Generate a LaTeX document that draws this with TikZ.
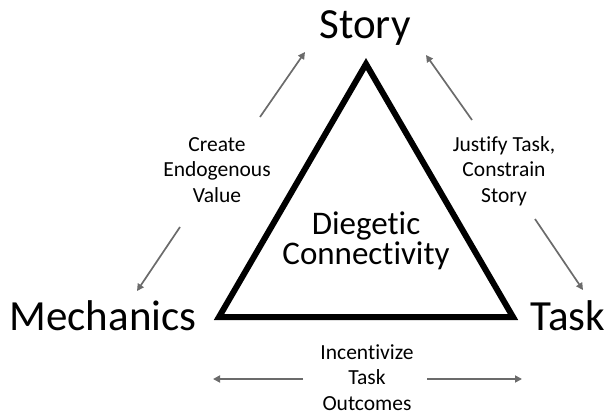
\documentclass[tikz,border=0pt]{standalone}
\usepackage{fontspec}
\setmainfont{Carlito}[Ligatures={NoCommon}]
\usetikzlibrary{arrows.meta}
\begin{document}
\begin{tikzpicture}[x=1pt,y=-1pt,
  corner/.style={font=\fontsize{43}{43}\selectfont, anchor=base, inner sep=0pt},
  hub/.style={font=\fontsize{33}{30.5}\selectfont, align=center, anchor=base, inner sep=0pt},
  note/.style={font=\fontsize{21.5}{25.5}\selectfont, align=center, anchor=base, inner sep=0pt},
  flow/.style={draw=black!58, line width=1.7pt, -{Triangle[length=7pt,width=7pt]}},
  frame/.style={draw=black, line width=6pt, miter limit=10, line join=miter}]
  \useasboundingbox (0,0) rectangle (607,414);

  % central triangle
  \coordinate (top) at (366,64);
  \coordinate (bl) at (219,317);
  \coordinate (br) at (513,317);
  \draw[frame] (top) -- (bl) -- (br) -- cycle;

  % corner labels
  \node[corner] (story) at (365,39) {Story};
  \node[corner] (mech) at (103,330) {Mechanics};
  \node[corner] (task) at (568,330) {Task};

  % centre label (anchored at the baseline of its last line)
  \node[hub] (dc) at (366,264.5) {Diegetic\\Connectivity};

  % edge labels (anchored at the baseline of their last line)
  \node[note] (cev) at (217,202) {Create\\Endogenous\\Value};
  \node[note] (jts) at (504,202) {Justify Task,\\Constrain\\Story};
  \node[note] (ito) at (367,410) {Incentivize\\Task\\Outcomes};

  % arrow end points
  \coordinate (ulS) at (260,117); \coordinate (ulE) at (305,52);
  \coordinate (urS) at (472,120); \coordinate (urE) at (426,55);
  \coordinate (llS) at (180,227); \coordinate (llE) at (137,291);
  \coordinate (lrS) at (535,219); \coordinate (lrE) at (583,290);
  \coordinate (blS) at (303,379); \coordinate (blE) at (213,379);
  \coordinate (brS) at (427,379); \coordinate (brE) at (522,379);

  \draw[flow] (ulS) -- (ulE);
  \draw[flow] (urS) -- (urE);
  \draw[flow] (llS) -- (llE);
  \draw[flow] (lrS) -- (lrE);
  \draw[flow] (blS) -- (blE);
  \draw[flow] (brS) -- (brE);
\end{tikzpicture}
\end{document}
